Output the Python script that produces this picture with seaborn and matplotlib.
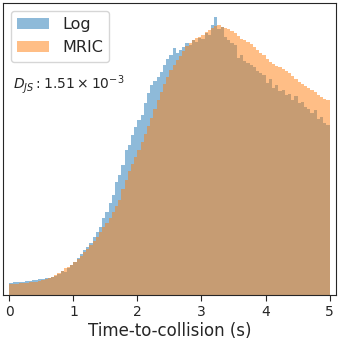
import numpy as np
import pandas as pd
import matplotlib
matplotlib.use("Agg")
import matplotlib.pyplot as plt
import seaborn as sns

# bin heights (arbitrary units), 100 bins on [0, 5] s
log_counts = [
    12.3, 12.8, 13.0, 13.3, 13.6, 14.0, 14.6, 14.8, 15.5, 15.8,
    16.2, 16.8, 17.6, 18.6, 19.5, 21.0, 24.5, 23.5, 27.0, 30.0,
    33.5, 37.5, 41, 45, 48, 52, 58, 63, 68, 77,
    83, 92, 100, 113, 120, 130, 145, 150, 160, 168,
    175, 180, 192, 202, 210, 214, 218, 223, 230, 236,
    240, 247, 242, 245, 248, 252, 250, 255, 253, 257,
    256, 262, 260, 270, 278, 266, 268, 258, 255, 252,
    250, 237, 240, 234, 232, 230, 228, 224, 222, 220,
    212, 216, 207, 210, 204, 205, 200, 201, 195, 199,
    192, 193, 188, 186, 182, 185, 176, 178, 172, 170,
]
mric_counts = [
    10.7, 11.0, 11.4, 11.7, 12.0, 12.3, 12.7, 13.1, 13.6, 14.2,
    15.0, 16.0, 17.2, 18.5, 20.0, 22.0, 24.5, 26.8, 28.5, 30.5,
    33, 36, 39.5, 43, 46.5, 50, 54, 58, 63, 68,
    72, 77, 83, 89, 95, 106, 115, 124, 131, 138,
    145, 153, 161, 169, 177, 186, 195, 203, 211, 218,
    225, 230, 235, 239, 244, 249, 252, 255, 257, 258,
    260, 263, 265, 267, 269, 270, 268, 267, 266, 264,
    262, 259, 256, 255, 253, 251, 248, 245, 242, 240,
    236, 233, 231, 229, 228, 226, 224, 222, 219, 216,
    213, 211, 209, 207, 205, 203, 200, 198, 196, 195,
]
t_min, t_max = 0.0, 5.0
djs_text = r"$D_{JS}: 1.51\times10^{-3}$"

n_bins = len(log_counts)
bin_w = (t_max - t_min) / n_bins
centers = t_min + bin_w * (np.arange(n_bins) + 0.5)
df_log = pd.DataFrame({"ttc": centers, "n": log_counts})
df_mric = pd.DataFrame({"ttc": centers, "n": mric_counts})

sns.set_style("ticks")
fig, ax = plt.subplots(figsize=(3.4, 3.4), dpi=100)
fig.subplots_adjust(left=0.009, right=0.988, bottom=0.132, top=0.991)

sns.histplot(data=df_log, x="ttc", weights="n", binwidth=bin_w,
             binrange=(t_min, t_max), color="tab:blue", alpha=0.5,
             linewidth=0, label="Log", ax=ax)
sns.histplot(data=df_mric, x="ttc", weights="n", binwidth=bin_w,
             binrange=(t_min, t_max), color="tab:orange", alpha=0.5,
             linewidth=0, label="MRIC", ax=ax)

ax.set_xlim(-0.1, 5.1)
ax.set_yticks([])
ax.set_ylabel("")
ax.set_xticks([0, 1, 2, 3, 4, 5])
ax.tick_params(axis="x", labelsize=10, length=4, pad=3)
ax.set_xlabel("Time-to-collision (s)", fontsize=12, labelpad=2)
ax.legend(loc="upper left", fontsize=11.5)
ax.text(0.03, 0.72, djs_text, transform=ax.transAxes, fontsize=10,
        va="center", ha="left")

fig.savefig("out.png", dpi=100)
